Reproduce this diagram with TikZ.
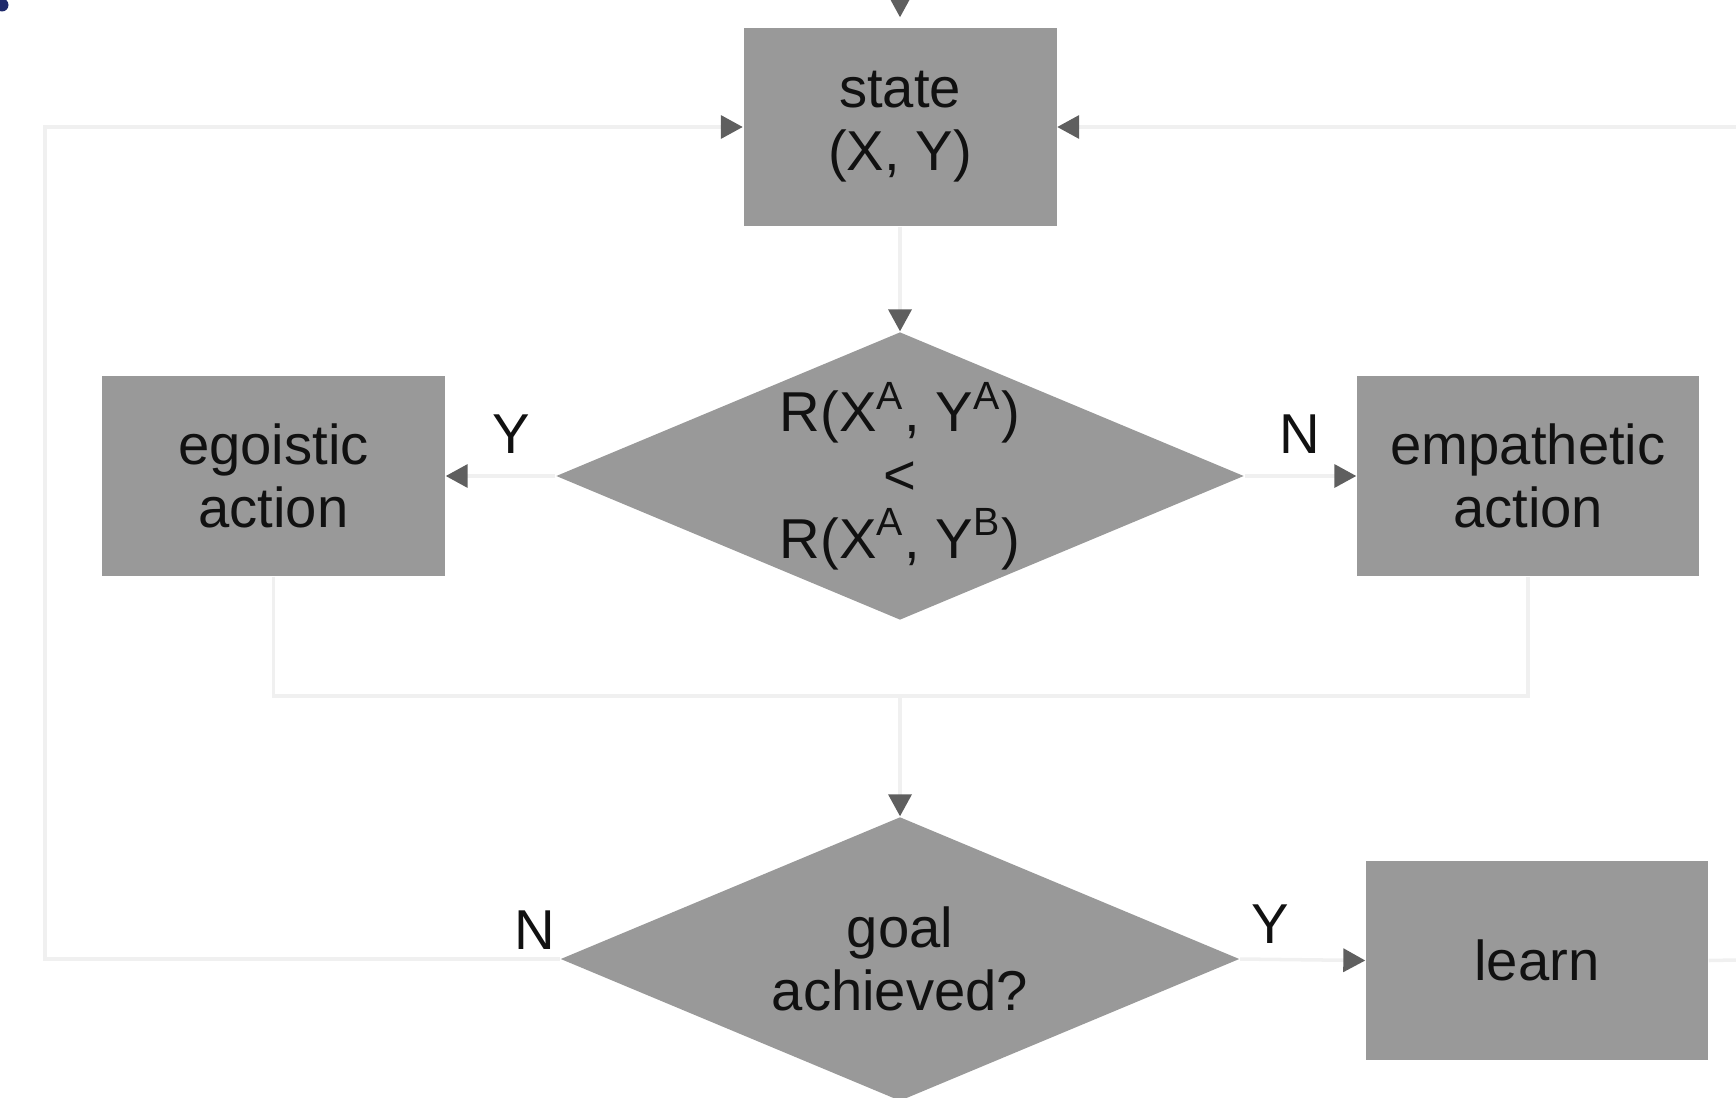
\documentclass[tikz,border=0pt]{standalone}
\usepackage{fontspec}
\setmainfont{Liberation Sans}
\usetikzlibrary{arrows.meta, calc, shapes.geometric}

\begin{document}
\begin{tikzpicture}[
    box/.style={rectangle, fill=fillColour, minimum width=3.43cm, minimum height=2cm, inner sep=0pt, align=center, font=\fontsize{16pt}{18pt}\selectfont, text=textColour},
    test/.style={diamond, fill=fillColour, aspect=2.39, minimum width=6.79cm, minimum height=2.84cm, inner sep=0pt, align=center, font=\fontsize{16pt}{18pt}\selectfont, text=textColour},
    link/.style={draw=lineColour, line width=1pt},
    flow/.style={link, -{Triangle[length=2.2mm, width=2.3mm, color=tipColour]}},
    yn/.style={font=\fontsize{16pt}{19pt}\selectfont, text=textColour, inner sep=0pt}
]
    % Define colors
    \definecolor{fillColour}{HTML}{999999}
    \definecolor{lineColour}{HTML}{F0F0F0}
    \definecolor{tipColour}{HTML}{5F5F5F}
    \definecolor{textColour}{HTML}{111111}
    \definecolor{dotColour}{HTML}{1F2A6B}

    % Fix the frame of the picture
    \useasboundingbox (0,0) rectangle (17.36,-10.97);
    \clip (0,0) rectangle (17.36,-10.97);

    % Draw the nodes
    \node[box, minimum width=3.13cm, minimum height=1.98cm] (state) at (9.0,-1.27) {state\\(X, Y)};
    \node[test] (compare) at (9.0,-4.76) {R(X\textsuperscript{A}, Y\textsuperscript{A})\\<\\R(X\textsuperscript{A}, Y\textsuperscript{B})};
    \node[box] (egoistic) at (2.735,-4.76) {egoistic\\action};
    \node[box, minimum width=3.42cm] (empathetic) at (15.28,-4.76) {empathetic\\action};
    \node[test] (goal) at (9.0,-9.59) {goal\\achieved?};
    \node[box, minimum width=3.42cm, minimum height=1.99cm] (learn) at (15.37,-9.605) {learn};

    % Define the helper coordinates
    \coordinate (entry) at (9.0,0.5);
    \coordinate (merge) at (9.0,-6.96);
    \coordinate (leftTurn) at (0.45,-9.59);
    \coordinate (rightTurn) at (17.9,-9.59);

    % Draw the connectors
    \draw[flow, shorten >=1mm] (entry) -- (state.north);
    \draw[flow] (state.south) -- (compare.north);
    \draw[flow] (compare.west) -- (egoistic.east);
    \draw[flow] (compare.east) -- (empathetic.west);
    \draw[link] (egoistic.south) |- (merge) -| (empathetic.south);
    \draw[flow] (merge) -- (goal.north);
    \draw[flow] (goal.east) -- (learn.west);
    \draw[flow] (goal.west) -- (leftTurn) |- (state.west);
    \draw[link] (learn.east) -- (rightTurn);
    \draw[flow] (rightTurn) |- (state.east);

    % Label the branches
    \node[yn] (compareYes) at ($(compare.west)+(-0.44,0.42)$) {Y};
    \node[yn] (compareNo) at ($(compare.east)+(0.55,0.42)$) {N};
    \node[yn] (goalNo) at ($(goal.west)+(-0.25,0.29)$) {N};
    \node[yn] (goalYes) at ($(goal.east)+(0.30,0.35)$) {Y};

    % Draw the dot in the corner
    \fill[dotColour] (0.02,-0.05) circle (0.065);

\end{tikzpicture}
\end{document}
